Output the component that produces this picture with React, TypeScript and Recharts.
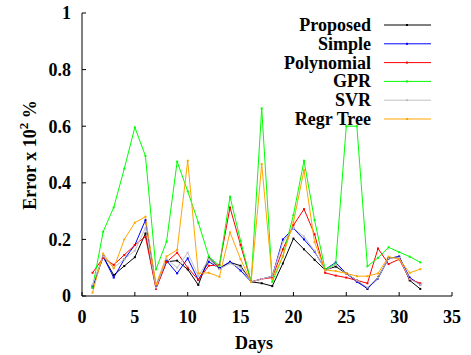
import React from 'react';
import { LineChart, Line, XAxis, YAxis } from 'recharts';

const days = [1,2,3,4,5,6,7,8,9,10,11,12,13,14,15,16,17,18,19,20,21,22,23,24,25,26,27,28,29,30,31,32];
const proposed = [0.03,0.139,0.074,0.106,0.137,0.221,0.03,0.121,0.125,0.094,0.039,0.137,0.098,0.119,0.107,0.05,0.045,0.035,0.115,0.203,0.165,0.128,0.092,0.104,0.08,0.055,0.025,0.066,0.133,0.139,0.055,0.025];
const simple = [0.036,0.14,0.065,0.13,0.18,0.268,0.035,0.125,0.08,0.133,0.057,0.121,0.098,0.121,0.09,0.05,0.06,0.07,0.2,0.239,0.2,0.157,0.094,0.118,0.08,0.05,0.027,0.062,0.133,0.139,0.065,0.04];
const polynomial = [0.082,0.135,0.11,0.145,0.18,0.21,0.025,0.12,0.153,0.1,0.057,0.107,0.11,0.313,0.18,0.05,0.06,0.065,0.165,0.25,0.307,0.218,0.082,0.072,0.065,0.055,0.045,0.168,0.113,0.13,0.059,0.045];
const gpr = [0.03,0.227,0.313,0.45,0.596,0.495,0.094,0.192,0.475,0.37,0.26,0.139,0.107,0.351,0.195,0.05,0.663,0.05,0.14,0.286,0.478,0.268,0.094,0.115,0.6,0.6,0.105,0.135,0.172,0.155,0.139,0.119];
const svr = [0.04,0.14,0.1,0.13,0.16,0.24,0.03,0.13,0.1,0.153,0.07,0.13,0.095,0.115,0.1,0.05,0.06,0.07,0.19,0.24,0.21,0.16,0.09,0.11,0.08,0.055,0.03,0.065,0.133,0.135,0.06,0.04];
const regrTree = [0.012,0.15,0.098,0.2,0.259,0.28,0.04,0.14,0.163,0.478,0.08,0.082,0.068,0.225,0.13,0.05,0.466,0.06,0.14,0.26,0.445,0.19,0.092,0.088,0.08,0.07,0.07,0.08,0.139,0.13,0.082,0.095];

const seriesNames = ['Proposed', 'Simple', 'Polynomial', 'GPR', 'SVR', 'Regr Tree'];
const seriesKeys = ['proposed', 'simple', 'polynomial', 'gpr', 'svr', 'regrTree'];
const seriesColors = ['#000000', '#0000ff', '#ff0000', '#00ff00', '#c0c0c0', '#ffa500'];
const xTicks = [0, 5, 10, 15, 20, 25, 30, 35];
const yTicks = [0, 0.2, 0.4, 0.6, 0.8, 1];

const data = days.map((d, i) => ({
  day: d,
  proposed: proposed[i],
  simple: simple[i],
  polynomial: polynomial[i],
  gpr: gpr[i],
  svr: svr[i],
  regrTree: regrTree[i],
}));

const FONT = '"Liberation Serif", "Times New Roman", serif';
const tickStyle = { fontSize: 18, fontWeight: 'bold', fontFamily: FONT, fill: '#000' } as any;

const SmallDot = (props: any) => {
  const { cx, cy, stroke } = props;
  if (cx == null || cy == null) return null;
  return <rect x={cx - 1} y={cy - 1} width={2} height={2} fill={stroke} />;
};

export default function App() {
  return (
    <div style={{ position: 'absolute', left: 0, top: 0, width: 471, height: 355, background: '#fff' }}>
      <LineChart width={471} height={355} data={data} margin={{ top: 13, right: 19, bottom: 0, left: 0 }}>
        <XAxis
          xAxisId="b"
          dataKey="day"
          type="number"
          domain={[0, 35]}
          ticks={xTicks}
          orientation="bottom"
          height={59}
          tickSize={-4}
          tickMargin={18}
          tick={tickStyle}
          stroke="#000"
          tickLine={{ stroke: '#000' }}
          axisLine={{ stroke: '#000' }}
          label={{
            content: () => (
              <text x={254} y={343} textAnchor="middle" dominantBaseline="central" fontFamily={FONT} fontWeight="bold" fontSize={18} fill="#000">Days</text>
            ),
          }}
        />
        <XAxis
          xAxisId="t"
          dataKey="day"
          type="number"
          domain={[0, 35]}
          ticks={xTicks}
          orientation="top"
          height={0}
          tickSize={-4}
          tick={false}
          stroke="#000"
          tickLine={{ stroke: '#000' }}
          axisLine={{ stroke: '#000' }}
        />
        <YAxis
          yAxisId="l"
          type="number"
          domain={[0, 1]}
          ticks={yTicks}
          orientation="left"
          width={82}
          tickSize={-4}
          tickMargin={15}
          tick={tickStyle}
          stroke="#000"
          tickLine={{ stroke: '#000' }}
          axisLine={{ stroke: '#000' }}
          label={{
            content: () => (
              <text x={30} y={155} transform="rotate(-90, 30, 155)" textAnchor="middle" dominantBaseline="central" fontFamily={FONT} fontWeight="bold" fontSize={18} fill="#000">
                Error x 10<tspan dy={-7} fontSize={13}>2</tspan><tspan dy={7}> %</tspan>
              </text>
            ),
          }}
        />
        <YAxis
          yAxisId="r"
          type="number"
          domain={[0, 1]}
          ticks={yTicks}
          orientation="right"
          width={0}
          tickSize={-4}
          tick={false}
          stroke="#000"
          tickLine={{ stroke: '#000' }}
          axisLine={{ stroke: '#000' }}
        />
        {seriesKeys.map((k, i) => (
          <Line
            key={k}
            xAxisId="b"
            yAxisId="l"
            type="linear"
            dataKey={k}
            name={seriesNames[i]}
            stroke={seriesColors[i]}
            strokeWidth={1}
            dot={<SmallDot />}
            activeDot={false}
            isAnimationActive={false}
          />
        ))}
      </LineChart>
      <svg width={471} height={355} style={{ position: 'absolute', left: 0, top: 0, pointerEvents: 'none' }}>
        {seriesNames.map((n, i) => {
          const cy = 25 + i * 18.8;
          return (
            <g key={n}>
              <text x={371} y={cy} textAnchor="end" dominantBaseline="central" fontFamily={FONT} fontWeight="bold" fontSize={18} fill="#000">{n}</text>
              <line x1={384} x2={431} y1={cy} y2={cy} stroke={seriesColors[i]} strokeWidth={1} />
              <rect x={406} y={cy - 1} width={2} height={2} fill={seriesColors[i]} />
            </g>
          );
        })}
      </svg>
    </div>
  );
}
